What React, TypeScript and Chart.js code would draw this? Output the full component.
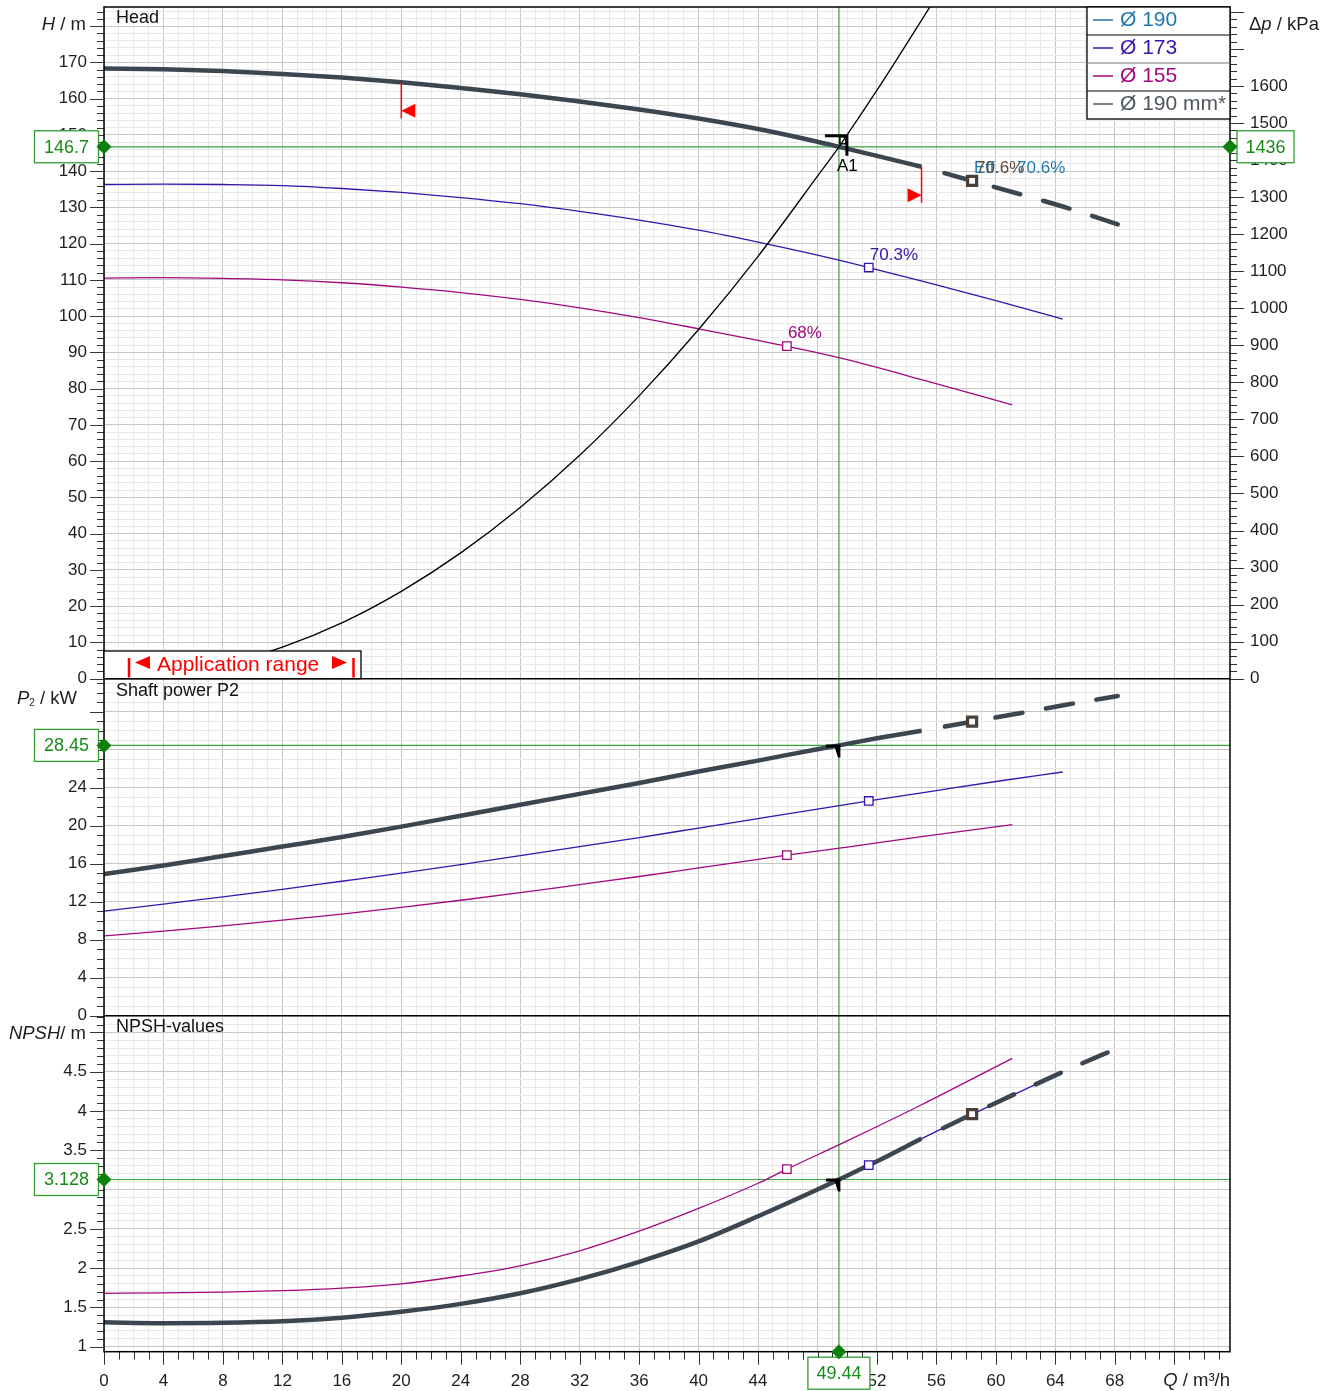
import React, { useEffect, useRef } from 'react';
import { Chart, registerables } from 'chart.js';

Chart.register(...registerables);

const FONT = "'Liberation Sans', Arial, Helvetica, sans-serif";
Chart.defaults.font.family = FONT;

// ---------------- operating point ----------------
const Q_OP = 49.44;
const H_OP = 146.7;
const DP_OP = 1436;
const P_OP = 28.45;
const NPSH_OP = 3.128;

// ---------------- head curves (Q m3/h, H m) ----------------
const Q_190S = [0, 4, 8, 12, 16, 20, 24, 28, 32, 36, 40, 44, 48, 49.44, 52, 55];
const H_190S = [168.3, 168.1, 167.6, 166.8, 165.8, 164.5, 162.9, 161.2, 159.2, 157.0, 154.5, 151.6, 148.1, 146.7, 144.2, 141.2];
const Q_190D = [55, 58.4, 62, 65, 68.2];
const H_190D = [141.2, 137.3, 133.2, 129.6, 125.3];
const Q_173 = [0, 4, 8, 12, 16, 20, 24, 28, 32, 36, 40, 44, 48, 51.45, 56, 60, 64.5];
const H_173 = [136.3, 136.4, 136.3, 136.0, 135.2, 134.1, 132.7, 131.0, 128.9, 126.5, 123.7, 120.4, 116.8, 113.4, 108.6, 104.3, 99.2];
const Q_155 = [0, 4, 8, 12, 16, 20, 24, 28, 32, 36, 40, 44, 45.94, 50, 55, 61.1];
const H_155 = [110.5, 110.6, 110.4, 110.0, 109.2, 108.0, 106.5, 104.6, 102.3, 99.6, 96.5, 93.3, 91.7, 88.0, 82.5, 75.5];
const Q_SYS = [0, 4, 8, 12, 16, 20, 24, 28, 32, 36, 40, 44, 48, 49.44, 52, 55.6];
const H_SYS = [0, 1.0, 3.85, 8.7, 15.4, 24.1, 34.7, 47.2, 61.6, 78.0, 96.3, 116.5, 138.6, 146.7, 162.3, 185.5];

// ---------------- shaft power P2 (kW) ----------------
const P_190S = [14.9, 15.8, 16.8, 17.8, 18.8, 19.9, 21.05, 22.2, 23.35, 24.5, 25.7, 26.85, 28.05, 28.45, 29.2, 30.0];
const P_190D = [30.0, 30.95, 31.95, 32.8, 33.65];
const P_173 = [11.0, 11.75, 12.5, 13.3, 14.15, 15.0, 15.9, 16.85, 17.8, 18.75, 19.75, 20.75, 21.75, 22.6, 23.7, 24.65, 25.65];
const P_155 = [8.4, 8.9, 9.45, 10.05, 10.7, 11.4, 12.15, 12.95, 13.8, 14.65, 15.55, 16.45, 16.9, 17.75, 18.85, 20.1];

// ---------------- NPSH (m) ----------------
const N_190S = [1.31, 1.30, 1.305, 1.325, 1.37, 1.445, 1.545, 1.68, 1.86, 2.08, 2.34, 2.66, 3.0, 3.128, 3.36, 3.65];
const N_190D = [3.65, 3.96, 4.28, 4.54, 4.8];
const N_173 = [1.31, 1.30, 1.305, 1.325, 1.37, 1.445, 1.545, 1.68, 1.86, 2.08, 2.34, 2.66, 3.0, 3.31, 3.74, 4.10, 4.50];
const N_155 = [1.68, 1.685, 1.695, 1.713, 1.745, 1.80, 1.90, 2.03, 2.22, 2.47, 2.76, 3.08, 3.26, 3.62, 4.08, 4.67];

// ---------------- best efficiency points: 190 mm*, 173, 155 ----------------
const BEP_Q = [58.4, 51.45, 45.94];
const BEP_H = [137.3, 113.4, 91.7];
const BEP_P = [30.95, 22.6, 16.9];
const BEP_N = [3.96, 3.31, 3.26];
const BEP_ETA = ['70.6%', '70.3%', '68%'];

// ---------------- application range limits ----------------
const APP_Q = [20, 55];
const APP_H = [164.5, 141.2];

// ---------------- legend ----------------
const LEG_LABELS = ['Ø 190', 'Ø 173', 'Ø 155', 'Ø 190 mm*'];

// ---------------- tick labels ----------------
const X_LABELS = [0, 4, 8, 12, 16, 20, 24, 28, 32, 36, 40, 44, 48, 52, 56, 60, 64, 68];
const H_LABELS = [0, 10, 20, 30, 40, 50, 60, 70, 80, 90, 100, 110, 120, 130, 140, 150, 160, 170];
const P_LABELS = [0, 4, 8, 12, 16, 20, 24, 28];
const N_LABELS = [1, 1.5, 2, 2.5, 3, 3.5, 4, 4.5];
const DP_LABELS = [0, 100, 200, 300, 400, 500, 600, 700, 800, 900, 1000, 1100, 1200, 1300, 1400, 1500, 1600];

const range = (a: number, b: number, step: number) => {
  const out: number[] = [];
  const n = Math.round((b - a) / step);
  for (let i = 0; i <= n; i++) out.push(Math.round((a + i * step) * 1000) / 1000);
  return out;
};
const X_TICKS = range(0, 75, 1);
const H_TICKS = range(0, 184, 2);
const P_TICKS = range(0, 35, 1);
const N_TICKS = range(1, 5.2, 0.1);
const DP_TICKS = range(0, 1800, 20);

// ---------------- layout / style constants ----------------
const X_MAX = 75.75;
const H_MAX = 185.25;
const P_MAX = 35.47;
const N_MIN = 0.9364;
const N_MAX = 5.2129;
const PANEL = [671.7, 337, 336];
const RHO_G = DP_OP / H_OP;
const DP_MAX = H_MAX * RHO_G;
const DP_MIN = -((PANEL[1] + PANEL[2]) / PANEL[0]) * H_MAX * RHO_G;

const C_DARK = '#3c4650';
const C_DARK_MARK = '#4b4038';
const C_TEAL = '#1f7ab2';
const C_BLUE = '#3a12ae';
const C_MAG = '#a3087f';
const C_LEG_DARK = '#4d555e';
const C_GREEN_LINE = '#3aa23a';
const C_GREEN = '#0d7f0d';
const C_GREEN_TXT = '#178a17';
const C_RED = '#ff0000';
const GRID_MAJ = '#c6c6c6';
const GRID_MIN = '#e8e8e8';
const C_TXT = '#1e1e1e';

const pts = (qs: number[], vs: number[]) => qs.map((q, i) => ({ x: q, y: vs[i] }));

const lineDs = (data: any[], color: string, width: number, yAxisID: string, order: number, dashed = false) => ({
  type: 'line',
  data,
  xAxisID: 'x',
  yAxisID,
  borderColor: color,
  backgroundColor: color,
  borderWidth: width,
  pointRadius: 0,
  pointHoverRadius: 0,
  fill: false,
  cubicInterpolationMode: 'monotone',
  borderDash: dashed ? [27.5, 23.75] : [],
  borderDashOffset: dashed ? 27.5 : 0,
  borderCapStyle: dashed ? 'round' : 'butt',
  borderJoinStyle: 'round',
  order,
});

const markDs = (q: number, v: number, color: string, yAxisID: string, r: number, bw: number) => ({
  type: 'line',
  data: [{ x: q, y: v }],
  xAxisID: 'x',
  yAxisID,
  showLine: false,
  pointStyle: 'rect',
  pointRadius: r,
  pointHoverRadius: r,
  pointBorderWidth: bw,
  pointBorderColor: color,
  pointBackgroundColor: '#ffffff',
  order: 0,
});

const datasets: any[] = [
  // head
  lineDs(pts(Q_190S, H_190S), C_TEAL, 1.3, 'yH', 6),
  lineDs(pts(Q_155, H_155), C_MAG, 1.3, 'yH', 4),
  lineDs(pts(Q_173, H_173), C_BLUE, 1.3, 'yH', 4),
  lineDs(pts(Q_190S, H_190S), C_DARK, 4.5, 'yH', 3),
  lineDs(pts(Q_190D, H_190D), C_DARK, 4.5, 'yH', 3, true),
  lineDs(pts(Q_SYS, H_SYS), '#000000', 1.3, 'yH', 2),
  markDs(BEP_Q[2], BEP_H[2], C_MAG, 'yH', 6, 1.3),
  markDs(BEP_Q[1], BEP_H[1], C_BLUE, 'yH', 6, 1.3),
  markDs(BEP_Q[0], BEP_H[0], C_DARK_MARK, 'yH', 6.4, 3.3),
  // power
  lineDs(pts(Q_190S, P_190S), C_TEAL, 1.3, 'yP', 6),
  lineDs(pts(Q_155, P_155), C_MAG, 1.3, 'yP', 4),
  lineDs(pts(Q_173, P_173), C_BLUE, 1.3, 'yP', 4),
  lineDs(pts(Q_190S, P_190S), C_DARK, 4.5, 'yP', 3),
  lineDs(pts(Q_190D, P_190D), C_DARK, 4.5, 'yP', 3, true),
  markDs(BEP_Q[2], BEP_P[2], C_MAG, 'yP', 6, 1.3),
  markDs(BEP_Q[1], BEP_P[1], C_BLUE, 'yP', 6, 1.3),
  markDs(BEP_Q[0], BEP_P[0], C_DARK_MARK, 'yP', 6.4, 3.3),
  // NPSH
  lineDs(pts(Q_190S, N_190S), C_TEAL, 1.3, 'yN', 6),
  lineDs(pts(Q_155, N_155), C_MAG, 1.3, 'yN', 4),
  lineDs(pts(Q_173, N_173), C_BLUE, 1.3, 'yN', 4),
  lineDs(pts(Q_190S, N_190S), C_DARK, 4.5, 'yN', 3),
  lineDs(pts(Q_190D, N_190D), C_DARK, 4.5, 'yN', 3, true),
  markDs(BEP_Q[2], BEP_N[2], C_MAG, 'yN', 6, 1.3),
  markDs(BEP_Q[1], BEP_N[1], C_BLUE, 'yN', 6, 1.3),
  markDs(BEP_Q[0], BEP_N[0], C_DARK_MARK, 'yN', 6.4, 3.3),
];

const isMult = (v: number, m: number) => Math.abs(v / m - Math.round(v / m)) < 1e-6;
const has = (arr: number[], v: number) => arr.some((a) => Math.abs(a - v) < 1e-6);

const tickFont = { size: 17, family: FONT };

const leftAxis = (stackWeight: number, weight: number, min: number, max: number, ticks: number[], major: number, labels: number[]) => ({
  type: 'linear',
  position: 'left',
  stack: 'L',
  stackWeight,
  weight,
  min,
  max,
  afterBuildTicks: (s: any) => {
    s.ticks = ticks.map((v) => ({ value: v }));
  },
  afterFit: (s: any) => {
    s.width = 104;
    s.paddingTop = 0;
    s.paddingBottom = 0;
  },
  grid: {
    color: (c: any) => (c.tick && isMult(c.tick.value, major) ? GRID_MAJ : GRID_MIN),
    drawTicks: false,
    lineWidth: 1,
  },
  border: { display: false },
  ticks: {
    autoSkip: false,
    padding: 17,
    color: C_TXT,
    font: tickFont,
    callback: (v: any) => (has(labels, v) ? String(v) : ''),
  },
});

function drawRich(ctx: any, parts: any[], x: number, y: number, align: 'left' | 'right', color: string) {
  let total = 0;
  parts.forEach((p) => {
    ctx.font = `${p.italic ? 'italic ' : ''}${p.size}px ${FONT}`;
    total += ctx.measureText(p.t).width;
  });
  let cx = align === 'right' ? x - total : x;
  ctx.fillStyle = color;
  ctx.textAlign = 'left';
  ctx.textBaseline = 'middle';
  parts.forEach((p) => {
    ctx.font = `${p.italic ? 'italic ' : ''}${p.size}px ${FONT}`;
    ctx.fillText(p.t, cx, y + (p.dy || 0));
    cx += ctx.measureText(p.t).width;
  });
}

function diamond(ctx: any, cx: number, cy: number, r: number) {
  ctx.beginPath();
  ctx.moveTo(cx, cy - r);
  ctx.lineTo(cx + r, cy);
  ctx.lineTo(cx, cy + r);
  ctx.lineTo(cx - r, cy);
  ctx.closePath();
  ctx.fill();
}

function greenBox(ctx: any, cx: number, cy: number, w: number, h: number, text: string) {
  ctx.fillStyle = '#ffffff';
  ctx.fillRect(cx - w / 2, cy - h / 2, w, h);
  ctx.strokeStyle = '#2f9e2f';
  ctx.lineWidth = 1.3;
  ctx.strokeRect(cx - w / 2, cy - h / 2, w, h);
  ctx.fillStyle = C_GREEN_TXT;
  ctx.font = `18px ${FONT}`;
  ctx.textAlign = 'center';
  ctx.textBaseline = 'middle';
  ctx.fillText(text, cx, cy + 1);
}

function flag(ctx: any, px: number, py: number) {
  ctx.fillStyle = '#000000';
  ctx.beginPath();
  ctx.moveTo(px - 13, py - 1);
  ctx.lineTo(px + 1.5, py - 1);
  ctx.lineTo(px + 1.5, py + 12);
  ctx.lineTo(px - 1, py + 12);
  ctx.lineTo(px - 4, py + 2);
  ctx.lineTo(px - 13, py + 2);
  ctx.closePath();
  ctx.fill();
}

const overlay = {
  id: 'overlay',
  beforeDatasetsDraw(chart: any) {
    const { ctx, chartArea: ca, scales } = chart;
    const { x, yH, yP, yN } = scales;
    ctx.save();
    ctx.strokeStyle = C_GREEN_LINE;
    ctx.lineWidth = 1.2;
    ctx.beginPath();
    const px = x.getPixelForValue(Q_OP);
    ctx.moveTo(px, ca.top);
    ctx.lineTo(px, ca.bottom);
    [
      [yH, H_OP],
      [yP, P_OP],
      [yN, NPSH_OP],
    ].forEach(([s, v]: any) => {
      const py = s.getPixelForValue(v);
      ctx.moveTo(ca.left, py);
      ctx.lineTo(ca.right, py);
    });
    ctx.stroke();
    ctx.restore();
  },
  afterDatasetsDraw(chart: any) {
    const { ctx, scales } = chart;
    const { x, yH, yP, yN } = scales;
    ctx.save();

    // application range limit marks on the head curve
    APP_Q.forEach((q, i) => {
      const px = x.getPixelForValue(q);
      const py = yH.getPixelForValue(APP_H[i]);
      ctx.strokeStyle = C_RED;
      ctx.fillStyle = C_RED;
      ctx.lineWidth = 1.5;
      ctx.beginPath();
      ctx.moveTo(px, py);
      ctx.lineTo(px, py + 36);
      ctx.stroke();
      const ty = py + 28.5;
      const dir = i === 0 ? 1 : -1;
      ctx.beginPath();
      ctx.moveTo(px, ty);
      ctx.lineTo(px + dir * 14, ty - 7);
      ctx.lineTo(px + dir * 14, ty + 7);
      ctx.closePath();
      ctx.fill();
    });

    // operating point A1
    const ox = x.getPixelForValue(Q_OP);
    const oy = yH.getPixelForValue(H_OP);
    ctx.strokeStyle = '#000000';
    ctx.lineWidth = 3;
    ctx.lineCap = 'butt';
    ctx.beginPath();
    ctx.moveTo(ox - 14, oy - 11);
    ctx.lineTo(ox + 8, oy - 11);
    ctx.lineTo(ox + 8, oy + 9);
    ctx.stroke();
    ctx.lineWidth = 1.5;
    ctx.strokeRect(ox + 1, oy - 10, 6, 7);
    ctx.fillStyle = '#000000';
    ctx.font = `17px ${FONT}`;
    ctx.textAlign = 'left';
    ctx.textBaseline = 'middle';
    ctx.fillText('A1', ox - 2, oy + 20);
    flag(ctx, ox, yP.getPixelForValue(P_OP));
    flag(ctx, ox, yN.getPixelForValue(NPSH_OP));

    // efficiency labels
    ctx.font = `17px ${FONT}`;
    ctx.textBaseline = 'middle';
    ctx.textAlign = 'left';
    const e0x = x.getPixelForValue(BEP_Q[0]);
    const e0y = yH.getPixelForValue(BEP_H[0]) - 13;
    ctx.fillStyle = C_TEAL;
    ctx.fillText('Eff.', e0x + 2, e0y);
    ctx.fillStyle = '#5a4a3c';
    ctx.fillText(BEP_ETA[0], e0x + 4, e0y);
    ctx.fillStyle = C_TEAL;
    ctx.fillText(BEP_ETA[0], e0x + 45, e0y);
    ctx.fillStyle = C_BLUE;
    ctx.fillText(BEP_ETA[1], x.getPixelForValue(BEP_Q[1]) + 1, yH.getPixelForValue(BEP_H[1]) - 12);
    ctx.fillStyle = C_MAG;
    ctx.fillText(BEP_ETA[2], x.getPixelForValue(BEP_Q[2]) + 1, yH.getPixelForValue(BEP_H[2]) - 13);

    // panel titles
    ctx.fillStyle = '#111111';
    ctx.font = `18px ${FONT}`;
    ctx.fillText('Head', 116, yH.top + 11.5);
    ctx.fillText('Shaft power P2', 116, yP.top + 12.5);
    ctx.fillText('NPSH-values', 116, yN.top + 11.5);
    ctx.restore();
  },
  afterDraw(chart: any) {
    const { ctx, chartArea: ca, scales } = chart;
    const { x, yH, yP, yN, yD } = scales;
    ctx.save();

    // tick marks
    ctx.strokeStyle = '#333333';
    ctx.lineWidth = 1;
    ctx.beginPath();
    const leftTicks = (s: any, major: number) => {
      s.ticks.forEach((t: any) => {
        const py = Math.round(s.getPixelForValue(t.value)) + 0.5;
        const len = isMult(t.value, major) ? 14 : 7;
        ctx.moveTo(ca.left - len, py);
        ctx.lineTo(ca.left, py);
      });
    };
    leftTicks(yH, 10);
    leftTicks(yP, 4);
    leftTicks(yN, 0.5);
    yD.ticks.forEach((t: any) => {
      const py = Math.round(yD.getPixelForValue(t.value)) + 0.5;
      const len = isMult(t.value, 100) ? 14 : 7;
      ctx.moveTo(ca.right, py);
      ctx.lineTo(ca.right + len, py);
    });
    x.ticks.forEach((t: any) => {
      const px = Math.round(x.getPixelForValue(t.value)) + 0.5;
      const len = isMult(t.value, 4) ? 13 : 8;
      ctx.moveTo(px, ca.bottom);
      ctx.lineTo(px, ca.bottom + len);
    });
    ctx.stroke();

    // frame
    ctx.strokeStyle = '#000000';
    ctx.lineWidth = 1.5;
    ctx.strokeRect(ca.left, ca.top, ca.right - ca.left, ca.bottom - ca.top);
    ctx.beginPath();
    ctx.moveTo(ca.left, yH.bottom);
    ctx.lineTo(ca.right, yH.bottom);
    ctx.moveTo(ca.left, yP.bottom);
    ctx.lineTo(ca.right, yP.bottom);
    ctx.stroke();

    // application range box
    const abTop = yH.bottom - 27.7;
    ctx.fillStyle = '#ffffff';
    ctx.fillRect(ca.left, abTop, 257, 27.7);
    ctx.strokeStyle = '#000000';
    ctx.lineWidth = 1.3;
    ctx.strokeRect(ca.left, abTop, 257, 27.7);
    ctx.strokeStyle = C_RED;
    ctx.fillStyle = C_RED;
    ctx.lineWidth = 2.5;
    ctx.beginPath();
    ctx.moveTo(129, abTop + 7);
    ctx.lineTo(129, abTop + 26.5);
    ctx.moveTo(353.5, abTop + 7);
    ctx.lineTo(353.5, abTop + 26.5);
    ctx.stroke();
    const ay = abTop + 11.5;
    ctx.beginPath();
    ctx.moveTo(135, ay);
    ctx.lineTo(150, ay - 6.5);
    ctx.lineTo(150, ay + 6.5);
    ctx.closePath();
    ctx.fill();
    ctx.beginPath();
    ctx.moveTo(347, ay);
    ctx.lineTo(332, ay - 6.5);
    ctx.lineTo(332, ay + 6.5);
    ctx.closePath();
    ctx.fill();
    ctx.font = `21px ${FONT}`;
    ctx.textAlign = 'left';
    ctx.textBaseline = 'alphabetic';
    ctx.fillText('Application range', 157, abTop + 19.5);

    // legend
    const lx = 1087;
    const lw = ca.right - lx;
    const rowH = 28;
    ctx.fillStyle = '#ffffff';
    ctx.fillRect(lx, ca.top, lw, rowH * 4);
    ctx.strokeStyle = '#000000';
    ctx.lineWidth = 1.3;
    ctx.strokeRect(lx, ca.top, lw, rowH * 4);
    const legColors = [C_TEAL, C_BLUE, C_MAG, C_LEG_DARK];
    LEG_LABELS.forEach((lab, i) => {
      const cy = ca.top + rowH * i + rowH / 2;
      if (i > 0) {
        ctx.strokeStyle = i === 2 ? '#777777' : '#000000';
        ctx.lineWidth = 1;
        ctx.beginPath();
        ctx.moveTo(lx, ca.top + rowH * i);
        ctx.lineTo(ca.right, ca.top + rowH * i);
        ctx.stroke();
      }
      ctx.strokeStyle = legColors[i];
      ctx.lineWidth = 1.5;
      ctx.beginPath();
      ctx.moveTo(lx + 6, cy - 1);
      ctx.lineTo(lx + 26, cy - 1);
      ctx.stroke();
      ctx.fillStyle = legColors[i];
      ctx.font = `21px ${FONT}`;
      ctx.textAlign = 'left';
      ctx.textBaseline = 'middle';
      ctx.fillText(lab, lx + 33, cy - 1);
    });

    // operating-point diamonds and value boxes
    const ox = x.getPixelForValue(Q_OP);
    const hy = yH.getPixelForValue(H_OP);
    const py = yP.getPixelForValue(P_OP);
    const ny = yN.getPixelForValue(NPSH_OP);
    greenBox(ctx, 66.5, hy, 64, 32, String(H_OP));
    greenBox(ctx, 66.5, py, 64, 32, String(P_OP));
    greenBox(ctx, 66.5, ny, 64, 32, String(NPSH_OP));
    greenBox(ctx, 1265.5, hy, 57, 32, String(DP_OP));
    greenBox(ctx, ox, ca.bottom + 21.5, 62, 32, String(Q_OP));
    ctx.fillStyle = C_GREEN;
    diamond(ctx, ca.left, hy, 7.5);
    diamond(ctx, ca.left, py, 7.5);
    diamond(ctx, ca.left, ny, 7.5);
    diamond(ctx, ca.right, hy, 7.5);
    diamond(ctx, ox, ca.bottom, 7.5);

    // axis titles
    drawRich(ctx, [{ t: 'H', italic: true, size: 18.5 }, { t: ' / m', size: 18.5 }], 86, 25, 'right', C_TXT);
    drawRich(ctx, [{ t: 'P', italic: true, size: 18.5 }, { t: '2', size: 10, dy: 5 }, { t: ' / kW', size: 18.5 }], 77, yP.top + 20, 'right', C_TXT);
    drawRich(ctx, [{ t: 'NPSH', italic: true, size: 18.5 }, { t: '/ m', size: 18.5 }], 86, yN.top + 18.5, 'right', C_TXT);
    drawRich(ctx, [{ t: 'Δ', size: 18.5 }, { t: 'p', italic: true, size: 18.5 }, { t: ' / kPa', size: 18.5 }], 1249, 25, 'left', C_TXT);
    drawRich(ctx, [{ t: 'Q', italic: true, size: 18.5 }, { t: ' / m³/h', size: 18.5 }], 1230, ca.bottom + 29, 'right', C_TXT);

    ctx.restore();
  },
};

export default function App() {
  const ref = useRef<HTMLCanvasElement | null>(null);

  useEffect(() => {
    if (!ref.current) return;
    const chart = new Chart(ref.current, {
      type: 'line',
      data: { datasets },
      options: {
        responsive: false,
        animation: false,
        events: [],
        layout: { padding: { top: 7, left: 0, right: 0, bottom: 0 }, autoPadding: false },
        plugins: { legend: { display: false }, tooltip: { enabled: false } },
        scales: {
          x: {
            type: 'linear',
            position: 'bottom',
            min: 0,
            max: X_MAX,
            afterBuildTicks: (s: any) => {
              s.ticks = X_TICKS.map((v) => ({ value: v }));
            },
            afterFit: (s: any) => {
              s.height = 39.3;
              s.paddingLeft = 0;
              s.paddingRight = 0;
            },
            grid: {
              color: (c: any) => (c.tick && isMult(c.tick.value, 4) ? GRID_MAJ : GRID_MIN),
              drawTicks: false,
              lineWidth: 1,
            },
            border: { display: false },
            ticks: {
              autoSkip: false,
              maxRotation: 0,
              minRotation: 0,
              padding: 19,
              color: C_TXT,
              font: tickFont,
              callback: (v: any) => (has(X_LABELS, v) ? String(v) : ''),
            },
          },
          yH: leftAxis(PANEL[0], 3, 0, H_MAX, H_TICKS, 10, H_LABELS),
          yP: leftAxis(PANEL[1], 2, 0, P_MAX, P_TICKS, 4, P_LABELS),
          yN: leftAxis(PANEL[2], 1, N_MIN, N_MAX, N_TICKS, 0.5, N_LABELS),
          yD: {
            type: 'linear',
            position: 'right',
            min: DP_MIN,
            max: DP_MAX,
            afterBuildTicks: (s: any) => {
              s.ticks = DP_TICKS.map((v) => ({ value: v }));
            },
            afterFit: (s: any) => {
              s.width = 105;
              s.paddingTop = 0;
              s.paddingBottom = 0;
            },
            grid: { display: false, drawTicks: false },
            border: { display: false },
            ticks: {
              autoSkip: false,
              padding: 20,
              color: C_TXT,
              font: tickFont,
              callback: (v: any) => (has(DP_LABELS, v) ? String(v) : ''),
            },
          },
        } as any,
      },
      plugins: [overlay],
    } as any);
    return () => chart.destroy();
  }, []);

  return (
    <div style={{ position: 'absolute', left: 0, top: 0, width: 1335, height: 1391, background: '#ffffff' }}>
      <canvas ref={ref} width={1335} height={1391} style={{ display: 'block', width: 1335, height: 1391 }} />
    </div>
  );
}
